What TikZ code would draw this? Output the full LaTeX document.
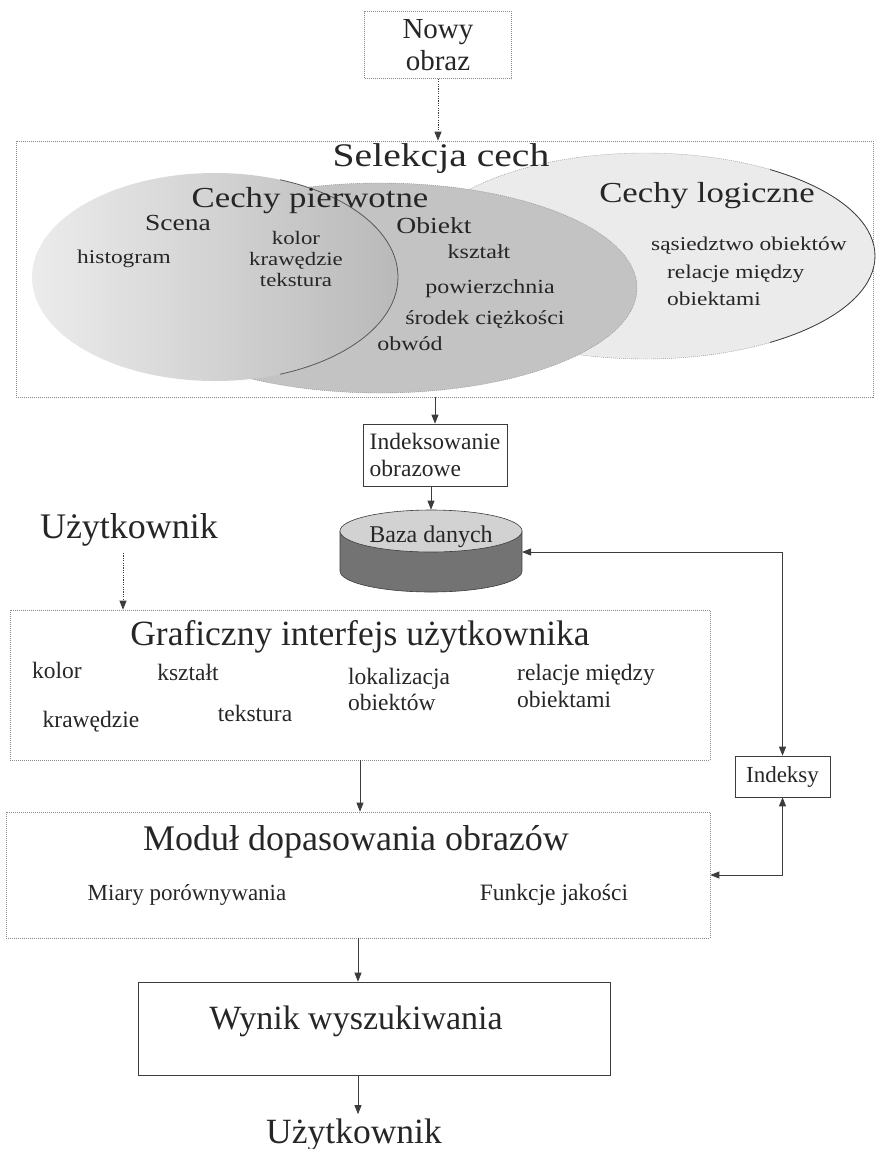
\documentclass[tikz,border=0pt]{standalone}
\usepackage{fontspec}
\setmainfont{Liberation Serif}
\newfontfamily\widefont[FakeStretch=1.2]{Liberation Serif}
\usetikzlibrary{arrows.meta,calc,shapes.geometric}
\newcommand{\fsz}[2]{\fontsize{#1pt}{#2pt}\selectfont}
\definecolor{txt}{HTML}{262626}
\definecolor{boxgray}{HTML}{8A8A8A}
\definecolor{linegray}{HTML}{3C3C3C}
\tikzset{
  lbl/.style={inner sep=0pt, text=txt, anchor=base},
  dotbox/.style={draw=boxgray, dash pattern=on 1pt off 1pt, line width=0.7pt, inner sep=0pt, text=txt},
  solbox/.style={draw=linegray, line width=0.7pt, inner sep=0pt, text=txt},
  tip/.style={-{Triangle[length=9pt,width=7pt]}},
  conn/.style={draw=linegray, line width=0.8pt, tip},
  dotconn/.style={conn, dash pattern=on 1.2pt off 1.2pt},
  biconn/.style={draw=linegray, line width=0.8pt, {Triangle[length=9pt,width=7pt]}-{Triangle[length=9pt,width=7pt]}},
}
\begin{document}
\begin{tikzpicture}[x=1pt,y=-1pt]
\useasboundingbox (0,0) rectangle (876,1149);

% ---- boxes ----
\node[dotbox, minimum width=147pt, minimum height=67pt, align=center, font=\fsz{29}{32}] (nowy) at (438,45) {Nowy\\obraz};
\node[dotbox, minimum width=857pt, minimum height=256pt] (selbox) at (444.5,269) {};
\node[dotbox, minimum width=700pt, minimum height=150pt] (gui) at (360,685) {};
\node[dotbox, minimum width=704pt, minimum height=126pt] (mod) at (358,875) {};
\node[solbox, minimum width=472pt, minimum height=93pt] (wyn) at (374,1028.5) {};
\node[solbox, minimum width=144pt, minimum height=62pt, align=left, font=\fsz{23.5}{27}] (idx) at (435,455) {Indeksowanie\\obrazowe};
\node[solbox, minimum width=95pt, minimum height=41pt, font=\fsz{23}{26}] (indeksy) at (782.5,776.5) {Indeksy};

% ---- ellipses ----
\fill[gray!16] (645,256) ellipse[x radius=230, y radius=103];
\draw[boxgray, dash pattern=on 1pt off 1pt] (645,256) ellipse[x radius=230, y radius=103];
\begin{scope}
  \clip (770,0) rectangle (876,1149);
  \draw[linegray, line width=0.8pt] (645,256) ellipse[x radius=230, y radius=103];
\end{scope}
\fill[gray!47] (380,288) ellipse[x radius=257, y radius=105];
\draw[boxgray, dash pattern=on 1pt off 1pt] (380,288) ellipse[x radius=257, y radius=105];
\shade[left color=gray!15, middle color=gray!52, right color=gray!55] (215,277) ellipse[x radius=183, y radius=104];
\begin{scope}
  \clip (280,0) rectangle (876,1149);
  \draw[linegray!85, line width=0.8pt] (215,277) ellipse[x radius=183, y radius=104];
\end{scope}

% ---- database cylinder ----
\fill[black!55] (340,531) rectangle (522,571);
\fill[black!55] (431,571) ellipse[x radius=91, y radius=21];
\draw[linegray, line width=0.6pt] (340,531) -- (340,571) arc[start angle=180, end angle=0, x radius=91, y radius=21] -- (522,531);
\node[ellipse, draw=linegray, line width=0.6pt, fill=gray!35, minimum width=182pt, minimum height=42pt, inner sep=0pt] (db) at (431,531) {};
\node[lbl, font=\fsz{24}{27}] (dbt) at (431,542) {Baza danych};

% ---- top region labels ----
\node[lbl, font=\widefont\fsz{33}{38}] (sel) at (441,166) {Selekcja cech};
\node[lbl, font=\widefont\fsz{29}{33}] (cp) at (310,207) {Cechy pierwotne};
\node[lbl, font=\widefont\fsz{29}{33}] (cl) at (707,202) {Cechy logiczne};
\node[lbl, font=\widefont\fsz{23}{26}] (sc) at (178,230) {Scena};
\node[lbl, font=\widefont\fsz{23}{26}] (ob) at (434,233) {Obiekt};
\node[lbl, anchor=center, align=center, font=\widefont\fsz{19}{21}] (pkol) at (296,259) {kolor\\krawędzie\\tekstura};
\node[lbl, font=\widefont\fsz{19.5}{22}] (hist) at (124,263) {histogram};
\node[lbl, font=\widefont\fsz{20}{23}] (ksz) at (479,258) {kształt};
\node[lbl, font=\widefont\fsz{20}{23}] (pow) at (490,293) {powierzchnia};
\node[lbl, font=\widefont\fsz{20}{23}] (sro) at (485,324) {środek ciężkości};
\node[lbl, font=\widefont\fsz{20}{23}] (obw) at (410,350) {obwód};
\node[lbl, font=\widefont\fsz{19.5}{22}] (sas) at (749,250) {sąsiedztwo obiektów};
\node[lbl, anchor=north west, align=left, font=\widefont\fsz{19.5}{27}] (rel1) at (667,265) {relacje między\\obiektami};

% ---- left user ----
\node[lbl, font=\fsz{36}{40}] (u1) at (129,538) {Użytkownik};
\coordinate (ua) at (123,553);

% ---- GUI labels ----
\node[lbl, font=\fsz{35.5}{40}] (guit) at (360,645) {Graficzny interfejs użytkownika};
\node[lbl, font=\fsz{23.5}{26}] (gk) at (57,678) {kolor};
\node[lbl, font=\fsz{23.5}{26}] (gks) at (188,680) {kształt};
\node[lbl, font=\fsz{23.5}{26}] (gkr) at (91,727) {krawędzie};
\node[lbl, font=\fsz{23.5}{26}] (gt) at (255,721) {tekstura};
\node[lbl, anchor=north west, align=left, font=\fsz{23.5}{26}] (gl) at (348,668) {lokalizacja\\obiektów};
\node[lbl, anchor=north west, align=left, font=\fsz{23.5}{27}] (gr) at (517,664) {relacje między\\obiektami};

% ---- module labels ----
\node[lbl, font=\fsz{36}{40}] (modt) at (356,850) {Moduł dopasowania obrazów};
\node[lbl, font=\fsz{23}{26}] (mia) at (187,900) {Miary porównywania};
\node[lbl, font=\fsz{23.5}{26}] (fun) at (554,900) {Funkcje jakości};

% ---- result ----
\node[lbl, font=\fsz{34}{38}] (wynt) at (356,1029) {Wynik wyszukiwania};
\node[lbl, font=\fsz{35.5}{40}] (u2) at (354,1143) {Użytkownik};

% ---- connectors ----
\draw[dotconn] (nowy.south) -- (nowy.south |- selbox.north);
\draw[conn] (idx.north |- selbox.south) -- (idx.north);
\draw[conn] (idx.south -| db.north) -- (db.north);
\coordinate (dbR) at (522,552);
\draw[biconn] (dbR) -| (indeksy.north);
\draw[biconn] (mod.east) -| (indeksy.south);
\draw[dotconn] (ua) -- (ua |- gui.north);
\draw[conn] (gui.south) -- (gui.south |- mod.north);
\draw[conn] (mod.south) -- (mod.south |- wyn.north);
\draw[conn, shorten >=4pt] (mod.south |- wyn.south) -- (mod.south |- u2.north);
\end{tikzpicture}
\end{document}
